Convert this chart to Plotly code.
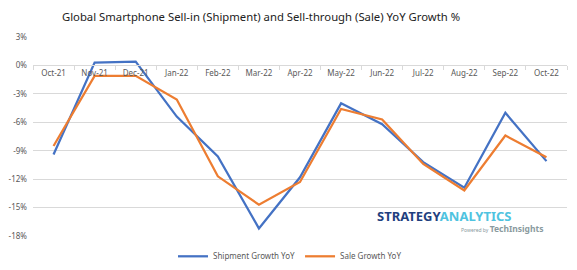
import plotly.graph_objects as go

categories = ["Oct-21", "Nov-21", "Dec-21", "Jan-22", "Feb-22", "Mar-22", "Apr-22",
              "May-22", "Jun-22", "Jul-22", "Aug-22", "Sep-22", "Oct-22"]
shipment_yoy = [-9.4, 0.3, 0.4, -5.4, -9.6, -17.2, -11.8, -4.0, -6.2, -10.2, -12.9, -5.0, -10.1]
sale_yoy = [-8.5, -1.1, -1.1, -3.6, -11.7, -14.7, -12.3, -4.6, -5.7, -10.4, -13.2, -7.4, -9.7]
y_ticks = [3, 0, -3, -6, -9, -12, -15, -18]
y_labels = ["3%", "0%", "-3%", "-6%", "-9%", "-12%", "-15%", "-18%"]

FONT = "Noto Sans"
GREY = "#595959"

fig = go.Figure()
fig.add_trace(go.Scatter(x=categories, y=shipment_yoy, mode="lines", name="Shipment Growth YoY",
                         line=dict(color="#4472C4", width=2.25)))
fig.add_trace(go.Scatter(x=categories, y=sale_yoy, mode="lines", name="Sale Growth YoY",
                         line=dict(color="#ED7D31", width=2.25)))

fig.update_layout(
    width=577, height=270,
    margin=dict(l=33, r=10, t=37, b=34, autoexpand=False),
    paper_bgcolor="white", plot_bgcolor="white",
    font=dict(family=FONT, color=GREY, size=8),
    title=dict(text="Global Smartphone Sell-in (Shipment) and Sell-through (Sale) YoY Growth %",
               x=261/577, xanchor="center", xref="container", y=1-17/270, yanchor="middle", yref="container",
               font=dict(family=FONT, size=11.3, color="#222222")),
    xaxis=dict(type="category", anchor="free", position=18/21, showgrid=False,
               showline=True, linecolor="#d9d9d9", linewidth=1,
               ticks="outside", ticklen=4, tickcolor="#d9d9d9", tickson="boundaries",
               tickfont=dict(size=8, color=GREY), range=[-0.5, 12.5], fixedrange=True),
    yaxis=dict(range=[-18, 3], tickvals=y_ticks, ticktext=y_labels, showgrid=True,
               gridcolor="#d9d9d9", gridwidth=1, zeroline=False, showline=False,
               ticks="", tickfont=dict(size=8, color=GREY), ticklabelstandoff=5),
    legend=dict(orientation="h", x=(290-33)/534, xanchor="center", y=-(256-235.7)/199, yanchor="middle",
                font=dict(size=8, color=GREY), itemwidth=30, tracegroupgap=0),
    showlegend=True,
)

fig.add_annotation(xref="paper", yref="paper", x=(444-33)/534, y=(235.7-215.7)/199,
                   xanchor="center", yanchor="middle", showarrow=False,
                   text="<b><span style='color:#1F3F7F'>STRATEGY</span><span style='color:#4FC3E0'>ANALYTICS</span></b>",
                   font=dict(family=FONT, size=13))
fig.add_annotation(xref="paper", yref="paper", x=(545-33)/534, y=(235.7-228)/199,
                   xanchor="right", yanchor="middle", showarrow=False,
                   text="<span style='font-size:5px'>Powered by </span><b>TechInsights</b>",
                   font=dict(family=FONT, size=8.5, color="#8a9a9e"))

fig.write_html("out.html")
